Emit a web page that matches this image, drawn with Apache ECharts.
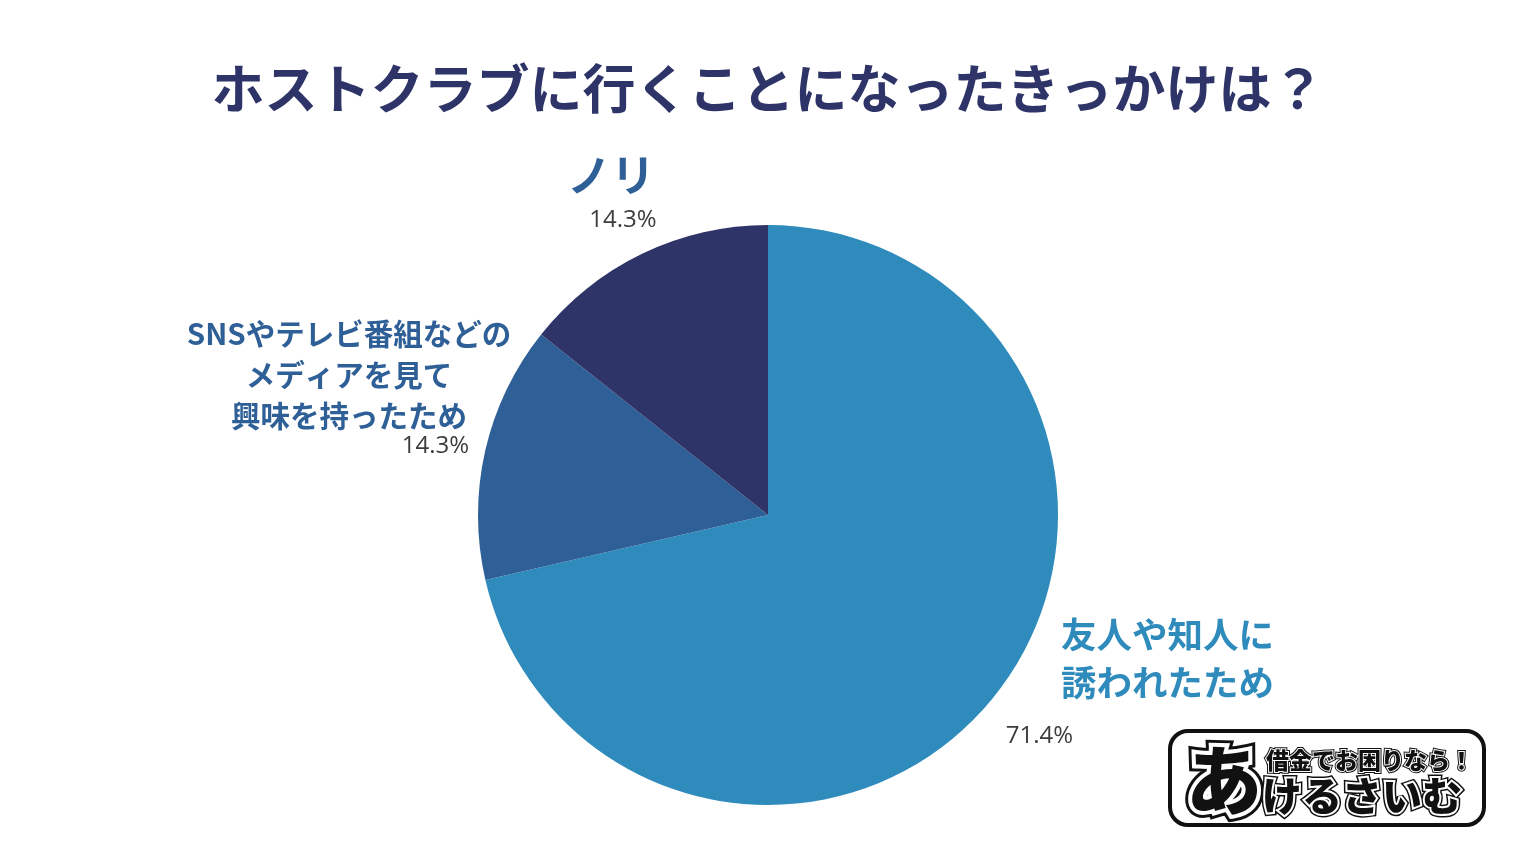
<!DOCTYPE html>
<html><head><meta charset="utf-8">
<script src="https://cdn.jsdelivr.net/npm/echarts@6/dist/echarts.min.js"></script>
<style>html,body{margin:0;padding:0;background:#fff}#c{width:1536px;height:864px}</style>
</head><body><div id="c"></div>
<script>
const titleText = 'ホストクラブに行くことになったきっかけは？';
const categories = ['友人や知人に\n誘われたため', 'SNSやテレビ番組などの\nメディアを見て\n興味を持ったため', 'ノリ'];
const values = [71.4, 14.3, 14.3];
const colors = ['#2E8BBB', '#2E5F96', '#2F3468'];
const labelColors = ['#2E8BBB', '#2E5F96', '#2E5F96'];
const logoSub = '借金でお困りなら！';
const logoMain1 = 'あ';
const logoMain2 = 'けるさいむ';

const FF = '"Noto Sans CJK JP", "Noto Sans", sans-serif';
const chart = echarts.init(document.getElementById('c'));

function fmt(v){ return v.toFixed(1) + '%'; }

const labelDefs = [
  {name:{x:1061, y:611, align:'left', size:35.5, lh:48}, val:{x:1073, y:736, align:'right'}},
  {name:{x:349, y:313, align:'center', size:29.5, lh:41}, val:{x:469, y:446, align:'right'}},
  {name:{x:611, y:150, align:'center', size:44, lh:50}, val:{x:623, y:220, align:'center'}}
];

const graphics = [];
categories.forEach((c, i) => {
  const d = labelDefs[i];
  graphics.push({type:'text', x:d.name.x, y:d.name.y, style:{
    text:c, fill:labelColors[i], font:'bold ' + d.name.size + 'px ' + FF,
    align:d.name.align, verticalAlign:'top', lineHeight:d.name.lh}});
  graphics.push({type:'text', x:d.val.x, y:d.val.y, style:{
    text:fmt(values[i]), fill:'#3c3c3c', font:'24px "Open Sans", "Noto Sans", sans-serif', align:d.val.align, verticalAlign:'middle'}});
});

graphics.push({type:'rect', shape:{x:1170, y:731, width:314, height:94, r:18},
  style:{fill:'#fff', stroke:'#111', lineWidth:4}});
function outlined(text, x, y, size){
  return [
    {type:'text', x, y, style:{text, font:'900 ' + size + 'px ' + FF, fill:'#111', stroke:'#111', lineWidth:Math.round(size/5.5), verticalAlign:'middle', align:'left'}},
    {type:'text', x, y, style:{text, font:'900 ' + size + 'px ' + FF, fill:'#111', stroke:'#fff', lineWidth:Math.round(size/10), verticalAlign:'middle', align:'left'}}
  ];
}
graphics.push(...outlined(logoMain1, 1186, 780, 76));
graphics.push(...outlined(logoSub, 1266, 760, 23));
graphics.push(...outlined(logoMain2, 1262, 796, 40));

chart.setOption({
  backgroundColor:'#fff',
  animation:false,
  title:{text:titleText, left:'center', top:57, textStyle:{fontFamily:FF, fontWeight:'bold', fontSize:53, color:'#2E3468'}},
  series:[{
    type:'pie', center:[768, 515], radius:290, startAngle:90, clockwise:true,
    label:{show:false}, labelLine:{show:false},
    itemStyle:{borderWidth:0},
    emphasis:{disabled:true},
    data: categories.map((c, i) => ({name:c, value:values[i], itemStyle:{color:colors[i]}}))
  }],
  graphic:graphics
});
</script></body></html>
